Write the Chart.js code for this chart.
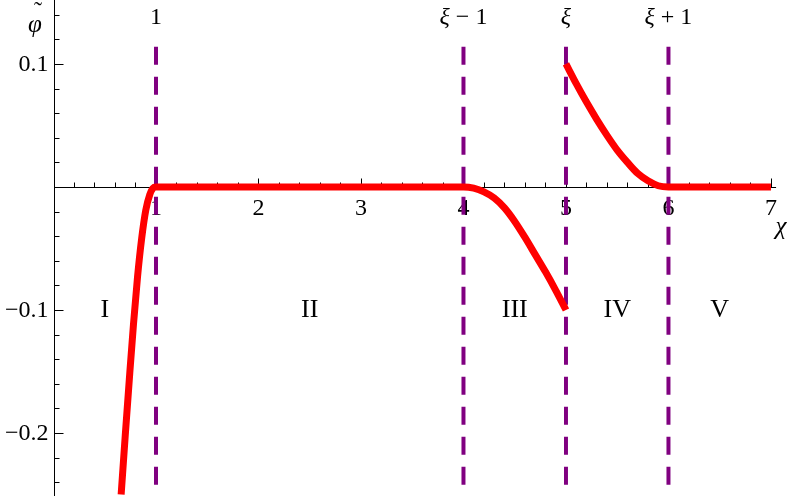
<!DOCTYPE html>
<html>
<head>
<meta charset="utf-8">
<script src="https://cdn.jsdelivr.net/npm/chart.js@4.4.0/dist/chart.umd.min.js"></script>
<style>
html, body { margin: 0; padding: 0; background: #fff; }
#wrap { width: 789px; height: 496px; }
</style>
</head>
<body>
<div id="wrap"><canvas id="plot"></canvas></div>
<script>
// courbe rouge, regions I a III (continue jusqu'a chi = 5)
const chiLeft = [0.66, 0.70, 0.74, 0.78, 0.82, 0.86, 0.90, 0.94, 0.97, 1.0, 4.0, 4.1, 4.2, 4.3, 4.4, 4.5, 4.6, 4.7, 4.8, 4.9, 5.0];
const phiLeft = [-0.250, -0.202, -0.156, -0.112, -0.073, -0.042, -0.019, -0.006, -0.001, 0, 0, -0.001, -0.004, -0.009, -0.017, -0.028, -0.041, -0.055, -0.069, -0.084, -0.100];
// regions IV et V (saut en chi = 5)
const chiRight = [5.0, 5.1, 5.2, 5.3, 5.4, 5.5, 5.6, 5.7, 5.8, 5.9, 6.0, 7.0];
const phiRight = [0.100, 0.084, 0.069, 0.055, 0.042, 0.030, 0.020, 0.011, 0.005, 0.001, 0, 0];

// lignes pointillees verticales
const wallX = [1, 4, 5, 6];
const wallLabels = ['1', 'ξ − 1', 'ξ', 'ξ + 1'];
const wallTop = 0.114;
const wallBottom = -0.26;

// graduations
const xTicks = [1, 2, 3, 4, 5, 6, 7];
const xTickLabels = ['1', '2', '3', '4', '5', '6', '7'];
const yTicks = [0.1, -0.1, -0.2];
const yTickLabels = ['0.1', '−0.1', '−0.2'];

// noms des regions
const regionX = [0.5, 2.5, 4.5, 5.5, 6.5];
const regionNames = ['I', 'II', 'III', 'IV', 'V'];
const regionY = -0.1;

const serif = '"Liberation Serif", "DejaVu Serif", serif';

function pts(xs, ys) {
    return xs.map((v, i) => ({x: v, y: ys[i]}));
}

const axesPlugin = {
    id: 'axes',
    beforeDatasetsDraw(chart) {
        const ctx = chart.ctx;
        const xs = chart.scales.x, ys = chart.scales.y;
        const x0 = Math.round(xs.getPixelForValue(0)) + 0.5;
        const y0 = Math.round(ys.getPixelForValue(0)) + 0.5;
        ctx.save();
        ctx.strokeStyle = '#000';
        ctx.lineWidth = 1;
        ctx.beginPath();
        ctx.moveTo(x0, y0);
        ctx.lineTo(xs.getPixelForValue(7.05), y0);
        ctx.moveTo(x0, chart.chartArea.top);
        ctx.lineTo(x0, chart.chartArea.bottom);
        // petites graduations en x (pas de 0.2)
        for (let i = 1; i <= 35; i++) {
            const px = Math.round(xs.getPixelForValue(i * 0.2)) + 0.5;
            const len = i % 5 === 0 ? 9 : 5;
            ctx.moveTo(px, y0);
            ctx.lineTo(px, y0 - len);
        }
        // graduations en y (pas de 0.02)
        for (let j = -12; j <= 7; j++) {
            if (j === 0) continue;
            const py = Math.round(ys.getPixelForValue(j * 0.02)) + 0.5;
            const len = j % 5 === 0 ? 9 : 5;
            ctx.moveTo(x0, py);
            ctx.lineTo(x0 + len, py);
        }
        ctx.stroke();

        ctx.fillStyle = '#000';
        ctx.font = '24px ' + serif;
        ctx.textAlign = 'center';
        ctx.textBaseline = 'middle';
        xTicks.forEach((v, i) => {
            ctx.fillText(xTickLabels[i], xs.getPixelForValue(v), y0 + 21);
        });
        ctx.textAlign = 'right';
        yTicks.forEach((v, i) => {
            ctx.fillText(yTickLabels[i], x0 - 6, ys.getPixelForValue(v) + 1);
        });
        ctx.restore();
    },
    afterDatasetsDraw(chart) {
        const ctx = chart.ctx;
        const xs = chart.scales.x, ys = chart.scales.y;
        ctx.save();
        ctx.fillStyle = '#000';
        ctx.textBaseline = 'middle';

        // etiquettes au-dessus des pointilles
        const roman = '24px ' + serif, ital = 'italic 24px ' + serif;
        wallLabels.forEach((lab, i) => {
            const cx = xs.getPixelForValue(wallX[i]);
            let head = '', rest = lab;
            if (lab.startsWith('ξ')) { head = 'ξ'; rest = lab.slice(1); }
            ctx.font = ital;
            const wh = ctx.measureText(head).width;
            ctx.font = roman;
            const wr = ctx.measureText(rest).width;
            let left = cx - (wh + wr) / 2;
            ctx.textAlign = 'left';
            ctx.font = ital;
            ctx.fillText(head, left, 18);
            ctx.font = roman;
            ctx.fillText(rest, left + wh, 18);
        });

        // regions
        ctx.font = '26px ' + serif;
        ctx.textAlign = 'center';
        regionNames.forEach((n, i) => {
            ctx.fillText(n, xs.getPixelForValue(regionX[i]), ys.getPixelForValue(regionY));
        });

        // noms des axes
        ctx.font = 'italic 25px ' + serif;
        ctx.fillText('φ', 35, 25);
        ctx.font = '24px ' + serif;
        ctx.fillText('˜', 38, 12);
        ctx.font = 'italic 25px ' + serif;
        ctx.fillText('χ', 781, 227);
        ctx.restore();
    }
};

const walls = wallX.map(v => ({
    data: [{x: v, y: wallTop}, {x: v, y: wallBottom}],
    showLine: true,
    borderColor: 'rgb(128, 0, 128)',
    borderWidth: 4,
    borderDash: [18, 12],
    borderCapStyle: 'butt',
    pointRadius: 0,
    tension: 0,
    order: 2
}));

new Chart(document.getElementById('plot'), {
    type: 'scatter',
    data: {
        datasets: [{
            data: pts(chiLeft, phiLeft),
            showLine: true,
            borderColor: '#ff0000',
            borderWidth: 7,
            borderCapStyle: 'butt',
            borderJoinStyle: 'round',
            pointRadius: 0,
            tension: 0.4,
            cubicInterpolationMode: 'monotone',
            order: 0
        }, {
            data: pts(chiRight, phiRight),
            showLine: true,
            borderColor: '#ff0000',
            borderWidth: 7,
            borderCapStyle: 'butt',
            borderJoinStyle: 'round',
            pointRadius: 0,
            tension: 0.4,
            cubicInterpolationMode: 'monotone',
            order: 0
        }].concat(walls)
    },
    options: {
        responsive: true,
        maintainAspectRatio: false,
        animation: false,
        layout: {padding: {left: 53.5, right: 0, top: 0, bottom: 0}},
        scales: {
            x: {type: 'linear', min: 0, max: 7.176, display: false},
            y: {type: 'linear', min: -0.2512, max: 0.152, display: false}
        },
        plugins: {
            legend: {display: false},
            tooltip: {enabled: false}
        }
    },
    plugins: [axesPlugin]
});
</script>
</body>
</html>
